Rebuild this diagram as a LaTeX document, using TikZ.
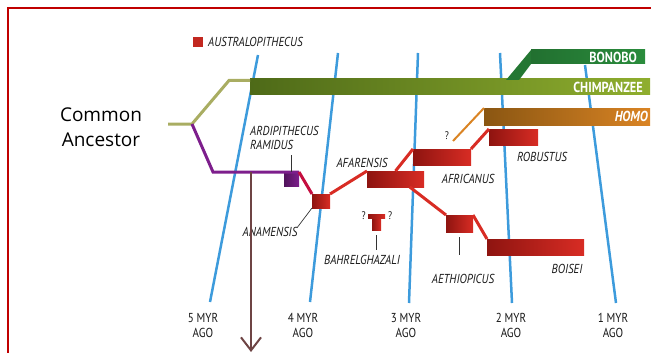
\documentclass[tikz,border=0pt]{standalone}
\usepackage{fontspec}
\setmainfont{Open Sans}
\newfontfamily\labelfont[FakeStretch=0.85]{PT Sans}
\usetikzlibrary{positioning, arrows.meta, calc}

\definecolor{framered}{HTML}{C00000}
\definecolor{timeblue}{HTML}{3D9BDC}
\definecolor{barred}{HTML}{D82C24}
\definecolor{darkred}{HTML}{8E1410}
\definecolor{chimpdark}{HTML}{4E6A18}
\definecolor{chimplight}{HTML}{8FAE2E}
\definecolor{bonobogreen}{HTML}{2A8C3C}
\definecolor{homodark}{HTML}{8A5612}
\definecolor{homolight}{HTML}{DA8424}
\definecolor{stemolive}{HTML}{A9AD62}
\definecolor{ramiduspurple}{HTML}{7D1E8C}
\definecolor{arrowbrown}{HTML}{6E4444}

\begin{document}
\begin{tikzpicture}[
    x=1pt, y=-1pt,
    timeline/.style={timeblue, line width=2.5pt},
    agelabel/.style={align=center, font=\labelfont\fontsize{13}{15}\selectfont, inner sep=0pt, text=black!90},
    bar/.style={rectangle, anchor=north west, inner sep=0pt, outer sep=0pt},
    redbar/.style={bar, left color=darkred, right color=barred},
    redline/.style={barred, line width=3pt},
    species/.style={font=\labelfont\itshape\fontsize{13}{14}\selectfont, inner sep=0pt, text=black!90},
    barlabel/.style={font=\labelfont\bfseries\fontsize{14.5}{14.5}\selectfont, text=white, inner sep=0pt},
    leader/.style={black!80, line width=0.7pt},
    query/.style={font=\labelfont\fontsize{11}{11}\selectfont, inner sep=0pt, text=black!90}
]
    \useasboundingbox (0,0) rectangle (651,353);

    % --- Frame ---
    \draw[framered, line width=2.2pt] (8,354) -- (8,8) -- (652,8);

    % --- Time axis ---
    \coordinate (t5) at (258,55);  \coordinate (b5) at (210,302);
    \coordinate (t4) at (338,53);  \coordinate (b4) at (310,302);
    \coordinate (t3) at (418,53);  \coordinate (b3) at (409,303);
    \coordinate (t2) at (500,53);  \coordinate (b2) at (512,303);
    \coordinate (t1) at (585,65);  \coordinate (b1) at (616,303);
    \draw[timeline] (t5) -- (b5);
    \draw[timeline] (t4) -- (b4);
    \draw[timeline] (t3) -- (b3);
    \draw[timeline] (t2) -- (b2);
    \draw[timeline] (t1) -- (b1);

    \node[agelabel] (age5) at (203,325) {5 MYR\\AGO};
    \node[agelabel] (age4) at (303,325) {4 MYR\\AGO};
    \node[agelabel] (age3) at (406,325) {3 MYR\\AGO};
    \node[agelabel] (age2) at (511,325) {2 MYR\\AGO};
    \node[agelabel] (age1) at (613,325) {1 MYR\\AGO};

    % --- Legend ---
    \node[bar, fill=barred!90!black, minimum size=10pt] (legendkey) at (193,37) {};
    \node[species, right=5pt of legendkey] (legendlbl) {AUSTRALOPITHECUS};

    % --- Common ancestor ---
    \node[font=\fontsize{19}{25}\selectfont, align=center, inner sep=0pt] (ancestor) at (101,127) {Common\\Ancestor};
    \coordinate (stem) at (168,124);
    \coordinate (split) at (192,124);

    % --- Apes ---
    \node[bar, left color=chimpdark, right color=chimplight, minimum width=400pt, minimum height=16pt] (chimp) at (250,79) {};
    \node[bar, left color=bonobogreen!80!black, right color=bonobogreen, minimum width=114pt, minimum height=14pt] (bonobo) at (531,50) {};
    \coordinate (bonofork) at (506,80);
    \fill[bonobogreen!85!black] (bonofork) -- (bonobo.north west) -- (bonobo.south west) -- ($(bonofork)+(13,0)$) -- cycle;
    \node[barlabel, left=8pt of bonobo.east] (bonobolbl) {BONOBO};
    \node[barlabel, left=7pt of chimp.east] (chimplbl) {CHIMPANZEE};

    \coordinate (oliveknee) at (229,80.5);
    \draw[stemolive, line width=3pt] (stem) -- (split) -- (oliveknee) -- (chimp.north west |- oliveknee);

    % --- Hominins ---
    \node[bar, left color=homodark, right color=homolight, minimum width=166pt, minimum height=17pt] (homo) at (484,108) {};
    \node[barlabel, font=\labelfont\bfseries\itshape\fontsize{14.5}{14.5}\selectfont, left=2pt of homo.east] (homolbl) {HOMO};

    \node[bar, left color=ramiduspurple!65!black, right color=ramiduspurple, minimum width=15pt, minimum height=14pt] (ramidus) at (284,172) {};
    \node[redbar, minimum width=18pt, minimum height=14pt] (anamensis) at (312,194) {};
    \node[redbar, minimum width=57pt, minimum height=16pt] (afarensis) at (367,171) {};
    \node[redbar, minimum width=58pt, minimum height=16pt] (africanus) at (413,149) {};
    \node[redbar, minimum width=49pt, minimum height=16pt] (robustus) at (489,129) {};
    \node[redbar, minimum width=27pt, minimum height=17pt] (aethiopicus) at (446,215) {};
    \node[redbar, minimum width=97pt, minimum height=16pt] (boisei) at (487,239) {};
    \node[redbar, minimum width=9pt, minimum height=15pt] (bahr) at (372,215) {};
    \node[redbar, minimum width=17pt, minimum height=4pt] (bahrcap) at (368,214) {};

    \coordinate (purpleknee) at (213,172);
    \draw[ramiduspurple, line width=3pt] (split) -- (purpleknee) -- (ramidus.north east);
    \draw[red!55!ramiduspurple, line width=3pt] (ramidus.north east) -- (anamensis.north west);
    \draw[redline] (anamensis.north east) -- (afarensis.north west);
    \draw[redline] (afarensis.north) -- (africanus.north west);
    \draw[redline] (africanus.north east) -- (robustus.north west);
    \draw[redline] ($(afarensis.south)!0.5!(afarensis.south east)$) -- (aethiopicus.north west);
    \draw[redline] (aethiopicus.north east) -- (boisei.north west);

    \coordinate (homostart) at (453,141);
    \draw[homolight, line width=2pt] (homostart) -- (homo.north west);
    \node[query] (homoq) at (447,136) {?};
    \node[query, left=2pt of bahrcap] (bahrql) {?};
    \node[query, right=3pt of bahrcap] (bahrqr) {?};

    % --- Species labels ---
    \node[species, align=left, anchor=west] (ramiduslbl) at (250,138) {ARDIPITHECUS\\RAMIDUS};
    \node[species] (anamensislbl) at (270,232) {ANAMENSIS};
    \node[species] (afarensislbl) at (362,163) {AFARENSIS};
    \node[species] (africanuslbl) at (468,178.5) {AFRICANUS};
    \node[species] (robustuslbl) at (542,157) {ROBUSTUS};
    \node[species] (bahrlbl) at (362,259.5) {BAHRELGHAZALI};
    \node[species] (aethiopicuslbl) at (463,278.5) {AETHIOPICUS};
    \node[species] (boiseilbl) at (567,269) {BOISEI};

    \draw[leader] (ramidus.north) -- ++(0,-17);
    \draw[leader] (anamensislbl.north east) -- (anamensis.south west);
    \draw[leader] (bahr.south) ++(0,5) -- ++(0,15);
    \draw[leader] (aethiopicus.south) ++(0,5) -- ++(0,18);

    % --- Arrow ---
    \coordinate (arrowtop) at (251,172);
    \coordinate (arrowtip) at (251,352);
    \draw[arrowbrown, line width=2.2pt, -{Straight Barb[length=13pt, width=20pt, line width=2pt]}] (arrowtop) -- (arrowtip);

\end{tikzpicture}
\end{document}
